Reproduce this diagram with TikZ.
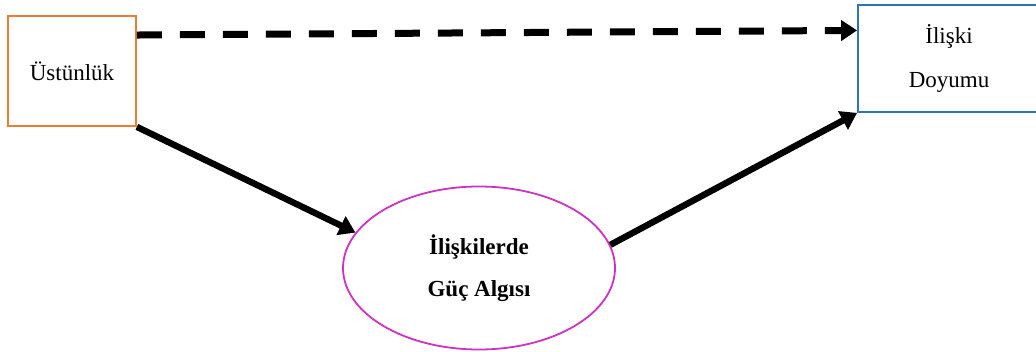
\documentclass[tikz,border=0pt]{standalone}
\usepackage{fontspec}
\setmainfont{Liberation Serif}
\usetikzlibrary{positioning}
\usetikzlibrary{arrows.meta}
\usetikzlibrary{shapes.geometric}
\definecolor{turuncu}{RGB}{237,125,49}
\definecolor{mavi}{RGB}{46,117,182}
\definecolor{pembe}{RGB}{204,51,196}

\begin{document}
\begin{tikzpicture}[x=0.5pt, y=-0.5pt,
    kutu/.style={draw, line width=0.9pt, inner sep=0pt, align=center, font=\fontsize{11.5}{13}\selectfont},
    elips/.style={draw=pembe, ellipse, line width=0.9pt, inner sep=0pt, align=center, minimum width=136pt, minimum height=81.5pt, font=\fontsize{11.5}{13}\selectfont\bfseries},
    ok/.style={-{Triangle[length=8pt,width=10pt]}, line width=3.2pt, black}]
    \useasboundingbox (0,0) rectangle (1036,352);

    \node[kutu, draw=turuncu, minimum width=64pt, minimum height=55pt] (ustun) at (72,71) {Üstünlük};
    \node[kutu, draw=mavi, minimum width=91pt, minimum height=53.5pt] (iliski) at (949,58.5) {İlişki\\[9pt]Doyumu};
    \node[elips] (guc) at (479,268) {İlişkilerde\\[8pt]Güç Algısı};

    \draw[ok, line width=3.5pt, dash pattern=on 12.5pt off 9pt] (ustun.29) -- (iliski.163);
    \draw[ok] (ustun.south east) -- (guc.164);
    \draw[ok] (guc.10) -- (iliski.south west);
\end{tikzpicture}
\end{document}
